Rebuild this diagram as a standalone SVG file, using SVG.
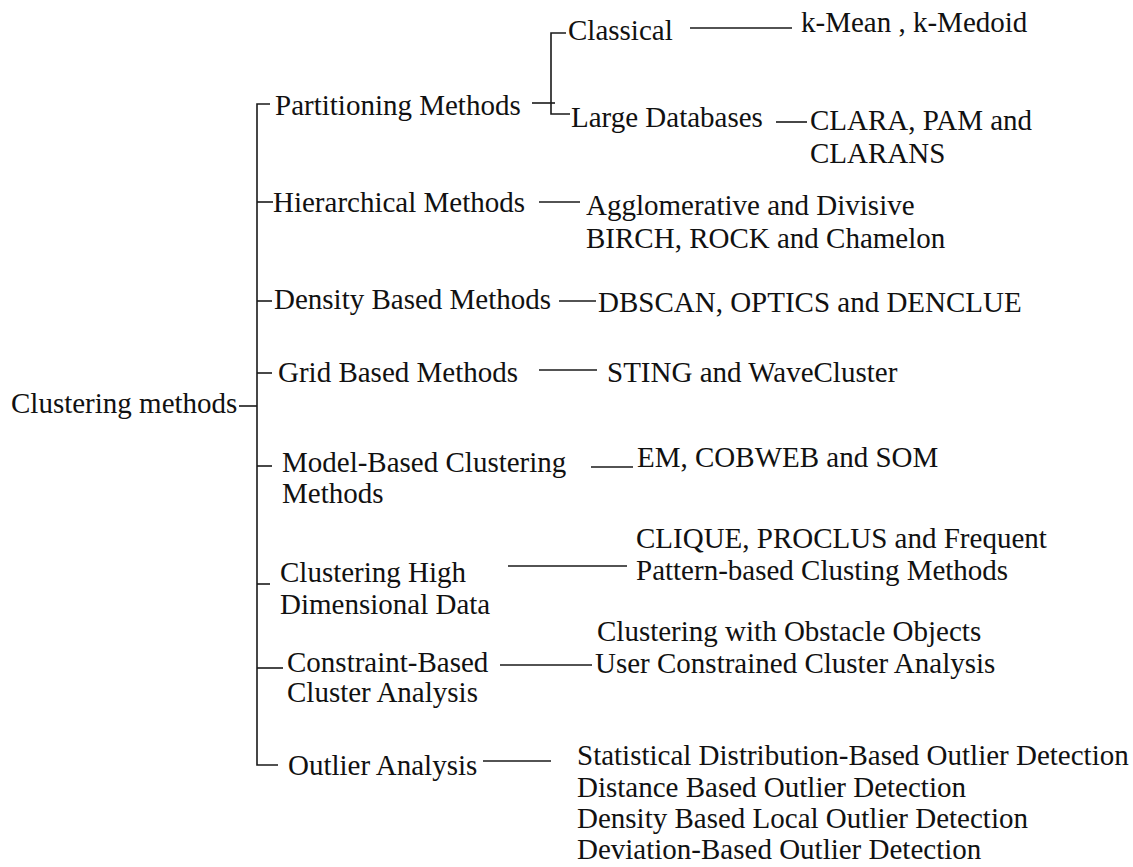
<svg xmlns="http://www.w3.org/2000/svg" width="1133" height="867" viewBox="0 0 1133 867">
  <style>
    text { font-family: 'Liberation Serif', 'Times New Roman', Times, 'DejaVu Serif', serif; font-size: 29px; fill: #111; }
    .ln { stroke: #1a1a1a; stroke-width: 1.6; fill: none; }
  </style>
  <rect width="1133" height="867" fill="#ffffff"/>

  <g id="connectors">
    <line class="ln" x1="239" y1="406" x2="257" y2="406"/>
    <polyline class="ln" points="270,104 257,104 257,765 278,765"/>
    <line class="ln" x1="257" y1="202" x2="273" y2="202"/>
    <line class="ln" x1="257" y1="301" x2="272" y2="301"/>
    <line class="ln" x1="257" y1="373" x2="272" y2="373"/>
    <line class="ln" x1="257" y1="466" x2="272" y2="466"/>
    <line class="ln" x1="257" y1="584" x2="270" y2="584"/>
    <line class="ln" x1="257" y1="668" x2="283" y2="668"/>
    <line class="ln" x1="532" y1="103" x2="555" y2="103"/>
    <polyline class="ln" points="566,33 551,33 551,114 570,114"/>
    <line class="ln" x1="690" y1="28" x2="792" y2="28"/>
    <line class="ln" x1="776" y1="122" x2="807" y2="122"/>
    <line class="ln" x1="539" y1="202" x2="580" y2="202"/>
    <line class="ln" x1="559" y1="301" x2="596" y2="301"/>
    <line class="ln" x1="539" y1="370" x2="597" y2="370"/>
    <line class="ln" x1="591" y1="467" x2="633" y2="467"/>
    <line class="ln" x1="508" y1="566" x2="627" y2="566"/>
    <line class="ln" x1="500" y1="665" x2="592" y2="665"/>
    <line class="ln" x1="483" y1="761" x2="551" y2="761"/>
  </g>

  <g id="root"><text x="11" y="413">Clustering methods</text></g>

  <g id="partitioning"><text x="275" y="115">Partitioning Methods</text></g>
  <g id="classical"><text x="568" y="40">Classical</text></g>
  <g id="kmean"><text x="801" y="32">k-Mean , k-Medoid</text></g>
  <g id="large-db"><text x="571" y="127">Large Databases</text></g>
  <g id="clara"><text x="810" y="130">CLARA, PAM and</text><text x="810" y="163">CLARANS</text></g>

  <g id="hierarchical"><text x="273" y="212">Hierarchical Methods</text></g>
  <g id="hier-leaf"><text x="586" y="215">Agglomerative and Divisive</text><text x="586" y="248">BIRCH, ROCK and Chamelon</text></g>

  <g id="density"><text x="274" y="309">Density Based Methods</text></g>
  <g id="density-leaf"><text x="598" y="312">DBSCAN, OPTICS and DENCLUE</text></g>

  <g id="grid"><text x="278" y="382">Grid Based Methods</text></g>
  <g id="grid-leaf"><text x="607" y="382">STING and WaveCluster</text></g>

  <g id="model"><text x="282" y="472">Model-Based Clustering</text><text x="282" y="503">Methods</text></g>
  <g id="model-leaf"><text x="637" y="467">EM, COBWEB and SOM</text></g>

  <g id="highdim"><text x="280" y="582">Clustering High</text><text x="280" y="614">Dimensional Data</text></g>
  <g id="highdim-leaf"><text x="636" y="548">CLIQUE, PROCLUS and Frequent</text><text x="636" y="580">Pattern-based Clusting Methods</text></g>

  <g id="constraint"><text x="287" y="672">Constraint-Based</text><text x="287" y="702">Cluster Analysis</text></g>
  <g id="constraint-leaf"><text x="597" y="641">Clustering with Obstacle Objects</text><text x="595" y="673">User Constrained Cluster Analysis</text></g>

  <g id="outlier"><text x="288" y="775">Outlier Analysis</text></g>
  <g id="outlier-leaf">
    <text x="577" y="765">Statistical Distribution-Based Outlier Detection</text>
    <text x="577" y="797">Distance Based Outlier Detection</text>
    <text x="577" y="828">Density Based Local Outlier Detection</text>
    <text x="577" y="859">Deviation-Based Outlier Detection</text>
  </g>
</svg>
